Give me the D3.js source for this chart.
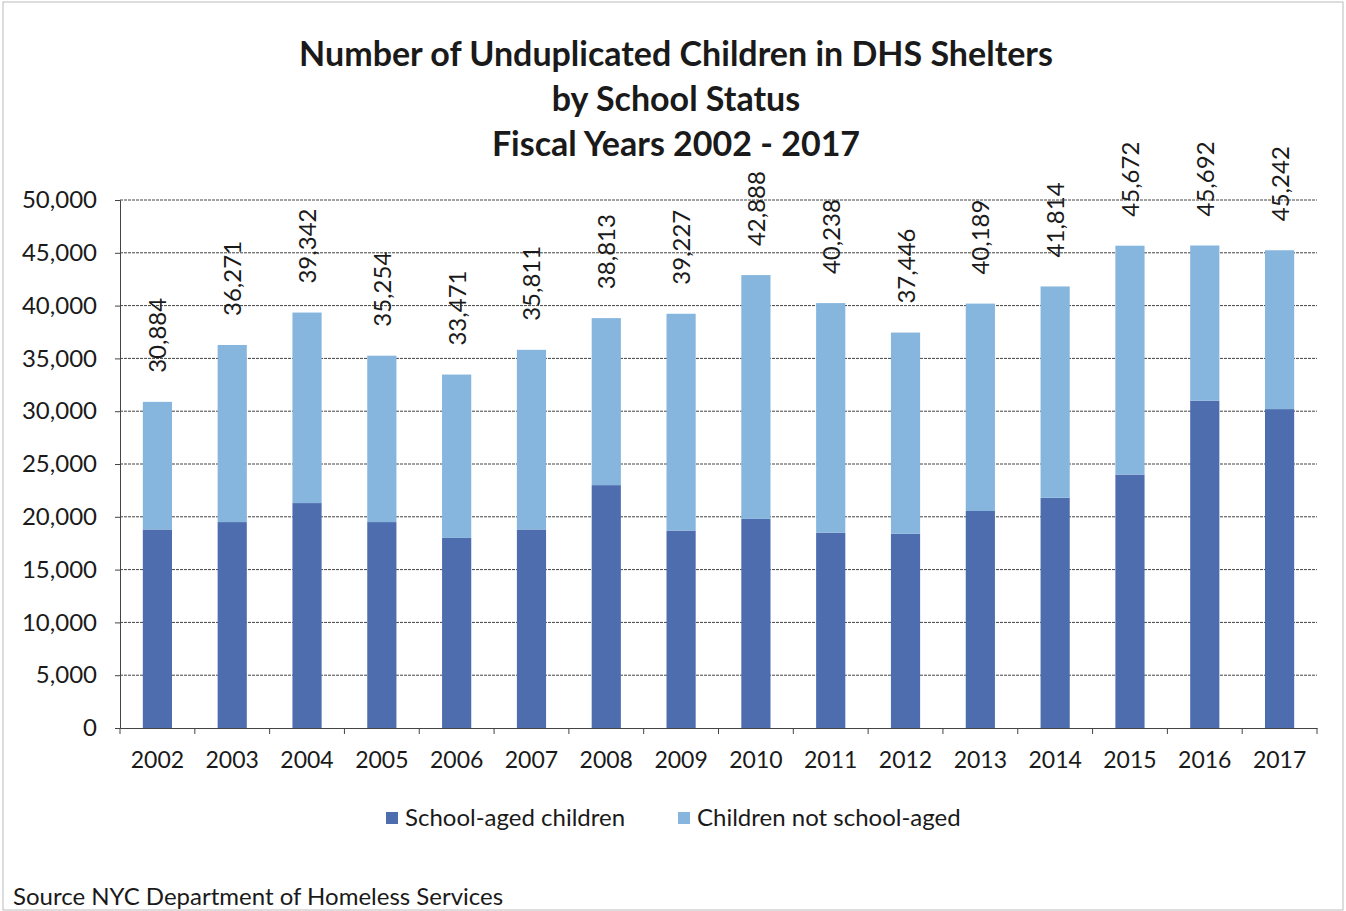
<!DOCTYPE html>
<html>
<head>
<meta charset="utf-8">
<script src="https://cdn.jsdelivr.net/npm/d3@7"></script>
<style>
  body { margin: 0; background: #fff; }
  text { font-family: Lato, "Open Sans", sans-serif; fill: #1a1a1a; }
</style>
</head>
<body>
<div id="chart"></div>
<script>
// data
var years = ["2002","2003","2004","2005","2006","2007","2008","2009","2010","2011","2012","2013","2014","2015","2016","2017"];
var totals = [30884, 36271, 39342, 35254, 33471, 35811, 38813, 39227, 42888, 40238, 37446, 40189, 41814, 45672, 45692, 45242];
var schoolAged = [18800, 19500, 21300, 19500, 18000, 18800, 23000, 18700, 19800, 18500, 18400, 20550, 21800, 24000, 31000, 30200];
var yTicks = [0, 5000, 10000, 15000, 20000, 25000, 30000, 35000, 40000, 45000, 50000];
var seriesNames = ["School-aged children", "Children not school-aged"];
var colors = ["#4e6daf", "#86b6de"];

var W = 1346, H = 911;
var margin = {top: 200, right: 29, bottom: 183, left: 120},
    width = W - margin.left - margin.right,
    height = H - margin.top - margin.bottom;

var svg = d3.select("#chart")
  .append("svg")
    .attr("width", W)
    .attr("height", H);

// outer frame
svg.append("rect")
  .attr("x", 3).attr("y", 2)
  .attr("width", W - 6).attr("height", H - 3)
  .attr("fill", "none")
  .attr("stroke", "#bbb")
  .attr("stroke-width", 1);

// title
var titleLines = ["Number of Unduplicated Children in DHS Shelters", "by School Status", "Fiscal Years 2002 - 2017"];
svg.selectAll(".title")
  .data(titleLines)
  .enter()
  .append("text")
    .attr("class", "title")
    .attr("x", 676)
    .attr("y", function(d, i) { return 66 + i * 45; })
    .attr("text-anchor", "middle")
    .style("font-size", "34px")
    .style("font-weight", "bold")
    .text(function(d) { return d; });

var g = svg.append("g")
  .attr("transform", "translate(" + margin.left + "," + margin.top + ")");

var x = d3.scaleBand()
  .domain(years)
  .range([0, width])
  .paddingInner(0.61)
  .paddingOuter(0.305);

var y = d3.scaleLinear()
  .domain([0, 50000])
  .range([height, 0]);

// gridlines
g.selectAll(".grid")
  .data(yTicks.slice(1))
  .enter()
  .append("line")
    .attr("x1", 0)
    .attr("x2", width)
    .attr("y1", function(d) { return y(d); })
    .attr("y2", function(d) { return y(d); })
    .attr("stroke", "#444")
    .attr("stroke-width", 1)
    .attr("stroke-dasharray", "3,1");

// stacked data
var rows = years.map(function(yr, i) {
  return {year: yr, school: schoolAged[i], other: totals[i] - schoolAged[i], total: totals[i]};
});
var stack = d3.stack().keys(["school", "other"]);
var layers = stack(rows);

g.selectAll(".layer")
  .data(layers)
  .enter()
  .append("g")
    .attr("fill", function(d, i) { return colors[i]; })
  .selectAll("rect")
  .data(function(d) { return d; })
  .enter()
  .append("rect")
    .attr("x", function(d) { return x(d.data.year); })
    .attr("y", function(d) { return y(d[1]); })
    .attr("width", x.bandwidth())
    .attr("height", function(d) { return y(d[0]) - y(d[1]); });

// total labels, rotated
g.selectAll(".total")
  .data(rows)
  .enter()
  .append("text")
    .attr("transform", function(d) {
      return "translate(" + (x(d.year) + x.bandwidth() / 2 + 9) + "," + (y(d.total) - 29) + ") rotate(-90)";
    })
    .style("font-size", "24px")
    .text(function(d) { return d3.format(",")(d.total); });

// y axis
var yAxis = g.append("g")
  .call(d3.axisLeft(y).tickValues(yTicks).tickFormat(d3.format(",")).tickSize(5).tickPadding(18));
yAxis.select(".domain").attr("stroke", "#444");
yAxis.selectAll(".tick line").attr("stroke", "#444");
yAxis.selectAll("text").style("font-size", "24px").attr("fill", "#1a1a1a");

// x axis with ticks between categories
var xAxis = g.append("g")
  .attr("transform", "translate(0," + height + ")")
  .call(d3.axisBottom(x).tickSize(0).tickPadding(24));
xAxis.select(".domain").attr("stroke", "#444");
xAxis.selectAll("text").style("font-size", "23px").attr("fill", "#1a1a1a");
g.selectAll(".xtick")
  .data(d3.range(years.length + 1))
  .enter()
  .append("line")
    .attr("x1", function(i) { return i * x.step(); })
    .attr("x2", function(i) { return i * x.step(); })
    .attr("y1", height)
    .attr("y2", height + 6)
    .attr("stroke", "#444");

// legend
var legendX = [386, 678];
var legend = svg.selectAll(".legend")
  .data(seriesNames)
  .enter()
  .append("g")
    .attr("transform", function(d, i) { return "translate(" + legendX[i] + ",812)"; });
legend.append("rect")
  .attr("width", 12).attr("height", 12)
  .attr("fill", function(d, i) { return colors[i]; });
legend.append("text")
  .attr("x", 19)
  .attr("y", 14)
  .style("font-size", "24px")
  .text(function(d) { return d; });

// source
svg.append("text")
  .attr("x", 13)
  .attr("y", 905)
  .style("font-size", "24px")
  .text("Source NYC Department of Homeless Services");
</script>
</body>
</html>
